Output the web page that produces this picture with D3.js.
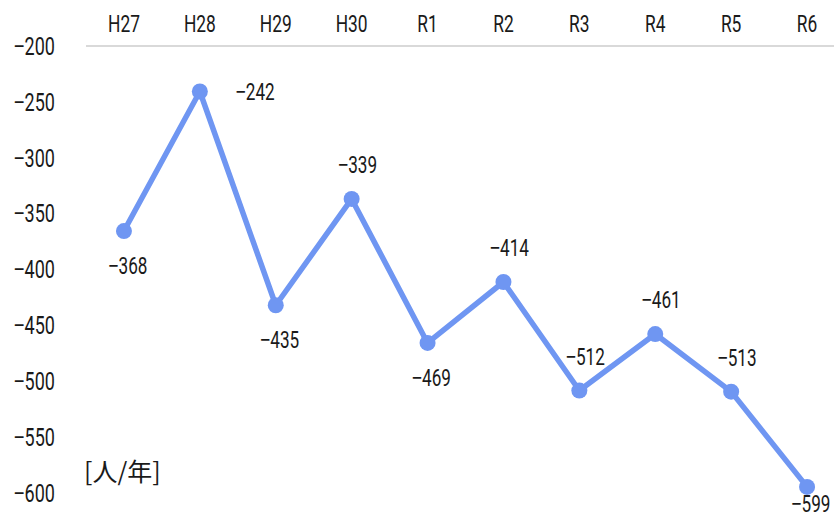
<!DOCTYPE html>
<html>
<head>
<meta charset="utf-8">
<script src="https://cdn.jsdelivr.net/npm/d3@7/dist/d3.min.js"></script>
<style>
  html, body { margin: 0; padding: 0; background: #fff; }
  svg { display: block; }
  .num { font-family: "Roboto", "Liberation Sans", sans-serif; fill: #1a1a1a; }
  .minus { font-family: "Liberation Sans", sans-serif; }
  .unit { font-family: "Noto Sans CJK JP", sans-serif; fill: #1a1a1a; }
</style>
</head>
<body>
<svg id="chart" width="834" height="519"></svg>
<script>
// Fiscal years (Heisei / Reiwa)
const years = ["H27", "H28", "H29", "H30", "R1", "R2", "R3", "R4", "R5", "R6"];
// Net population change per year [persons/year]
const values = [-368, -242, -435, -339, -469, -414, -512, -461, -513, -599];
// Where each value label sits relative to its point
const labelSide = ["below", "right", "below", "above", "below", "above", "above", "above", "above", "below"];
const yTicks = [-200, -250, -300, -350, -400, -450, -500, -550, -600];

const svg = d3.select("#chart");
const W = 834;

const x = d3.scaleBand().domain(years).range([86, 845]).padding(0);
const y = d3.scaleLinear().domain([-200, -600]).range([45, 488]);
// baselines of the value-axis labels
const yLab = d3.scaleLinear().domain([-200, -600]).range([55, 501.5]);
const cx = d => x(d) + x.bandwidth() / 2;

// condensed text: scale glyphs horizontally about the anchor point;
// a leading minus sign is drawn as a wide typographic minus
function numText(g, px, py, content, size, sx, anchor) {
  const t = g.append("text")
    .attr("class", "num")
    .attr("transform", `translate(${px},${py}) scale(${sx},1)`)
    .attr("font-size", size)
    .attr("text-anchor", anchor);
  const s = String(content);
  if (s.startsWith("-")) {
    t.append("tspan").attr("class", "minus").text("\u2212");
    t.append("tspan").text(s.slice(1));
  } else {
    t.text(s);
  }
  return t;
}

// Category axis along the top (crosses at -200)
svg.append("line")
  .attr("x1", 86).attr("x2", W)
  .attr("y1", y(-200) + 1).attr("y2", y(-200) + 1)
  .attr("stroke", "#d9d9d9").attr("stroke-width", 2);

const gx = svg.append("g");
years.forEach(d => numText(gx, cx(d), 32, d, 23.5, 0.74, "middle"));

// Value axis labels
const gy = svg.append("g");
yTicks.forEach(v => numText(gy, 55, yLab(v), v, 26.5, 0.68, "end"));

// Line
const line = d3.line()
  .x((d, i) => cx(years[i]))
  .y(d => y(d));

svg.append("path")
  .datum(values)
  .attr("d", line)
  .attr("fill", "none")
  .attr("stroke", "#6f96f2")
  .attr("stroke-width", 5.5)
  .attr("stroke-linejoin", "round");

svg.append("g").selectAll("circle")
  .data(values).join("circle")
  .attr("cx", (d, i) => cx(years[i]))
  .attr("cy", d => y(d))
  .attr("r", 8)
  .attr("fill", "#6f96f2");

// Value labels
const gl = svg.append("g");
values.forEach((v, i) => {
  const px = cx(years[i]), py = y(v);
  const side = labelSide[i];
  if (side === "right") {
    numText(gl, px + 36, py + 8.5, v, 24.5, 0.7, "start");
  } else if (side === "above") {
    numText(gl, px + 6, py - 26, v, 24.5, 0.7, "middle");
  } else {
    // the last label sits tight under its point to stay inside the frame
    const off = i === values.length - 1 ? 25 : 43;
    numText(gl, px + 4, py + off, v, 24.5, 0.7, "middle");
  }
});

// Unit label
svg.append("text")
  .attr("class", "unit")
  .attr("x", 84)
  .attr("y", 481)
  .attr("font-size", 25)
  .text("[人/年]");
</script>
</body>
</html>
